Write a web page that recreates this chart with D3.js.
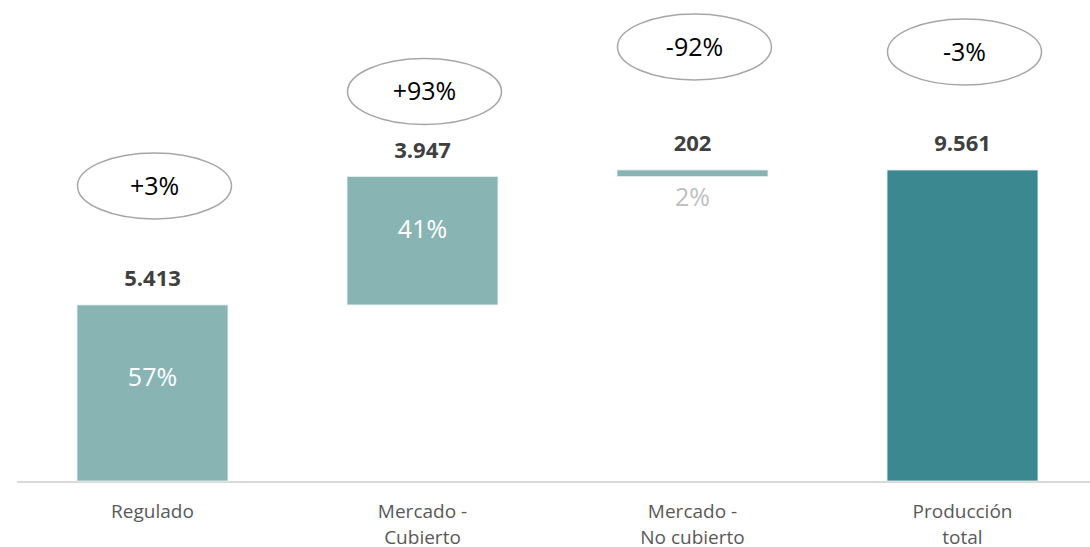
<!DOCTYPE html>
<html lang="es">
<head>
  <meta charset="utf-8">
  <title>Producción por mercado</title>
<style>
  body { margin: 0; background: #fff; }
  svg { display: block; font-family: "Open Sans", sans-serif; }
  .ejes line { stroke: #d9d9d9; stroke-width: 2; }
  .valor { font-weight: bold; fill: #404040; font-size: 22px; }
  .cuota { font-size: 25px; }
  .burbuja ellipse { fill: #fff; stroke: #a6a6a6; stroke-width: 1.5; }
  .burbuja text { fill: #000; font-size: 25px; }
  .categoria { fill: #595959; font-size: 19px; }
</style>
  <script src="https://d3js.org/d3.v7.min.js"></script>
</head>
<body>
<svg width="1090" height="547"></svg>
<script>
// datos
var categorias = [["Regulado"], ["Mercado -", "Cubierto"], ["Mercado -", "No cubierto"], ["Producción", "total"]];
var valores = [5413, 3947, 202, 9561];
var cuotas = ["57%", "41%", "2%", null];
var variaciones = ["+3%", "+93%", "-92%", "-3%"];
var esTotal = [false, false, false, true];

var svg = d3.select("svg"),
    width = +svg.attr("width"),
    height = +svg.attr("height");

// cascada: cada barra parcial empieza donde acaba la anterior
var acum = 0;
var barras = valores.map(function (v, i) {
  var d = { i: i, v: v, total: esTotal[i] };
  if (d.total) { d.y0 = 0; d.y1 = v; }
  else { d.y0 = acum; d.y1 = acum + v; acum += v; }
  return d;
});

var x = d3.scaleBand()
    .domain(d3.range(valores.length))
    .range([17.5, 1097.5])
    .paddingInner(0.441)
    .paddingOuter(0.2205);

var y = d3.scaleLinear()
    .domain([0, d3.max(valores)])
    .range([481, 170]);

var claro = "#88b4b4", oscuro = "#3b8891";

// titulo (cortado arriba)
svg.append("text")
    .attr("x", 559).attr("y", -4)
    .attr("text-anchor", "middle")
    .style("font-weight", "bold").style("font-size", "24px")
    .text("(en GWh)");

// eje
svg.append("g").attr("class", "ejes")
  .append("line")
    .attr("x1", 17).attr("x2", width)
    .attr("y1", y(0) + 1).attr("y2", y(0) + 1);

var g = svg.selectAll("g.barra")
    .data(barras)
    .enter().append("g").attr("class", "barra");

g.append("rect")
    .attr("x", function (d) { return x(d.i); })
    .attr("width", x.bandwidth())
    .attr("y", function (d) { return y(d.y1); })
    .attr("height", function (d) { return y(d.y0) - y(d.y1); })
    .attr("fill", function (d) { return d.total ? oscuro : claro; })
    .attr("stroke", "#e6f0f0").attr("stroke-width", 0.8);

g.append("text")
    .attr("class", "valor")
    .attr("x", function (d) { return x(d.i) + x.bandwidth() / 2; })
    .attr("y", function (d) { return y(d.y1) - 19; })
    .attr("text-anchor", "middle")
    .text(function (d) { return d3.format(",")(d.v).replace(/,/g, "."); });

// cuotas: dentro si la barra es alta, debajo si es fina
g.filter(function (d) { return cuotas[d.i]; })
  .append("text")
    .attr("class", "cuota")
    .attr("x", function (d) { return x(d.i) + x.bandwidth() / 2; })
    .attr("y", function (d) {
      var h = y(d.y0) - y(d.y1);
      return h > 40 ? y(d.y1) + h * 0.41 : y(d.y0) + 21;
    })
    .attr("dy", "0.35em")
    .attr("text-anchor", "middle")
    .attr("fill", function (d) { return (y(d.y0) - y(d.y1)) > 40 ? "#fff" : "#bfbfbf"; })
    .text(function (d) { return cuotas[d.i]; });

// burbujas de variacion (colocadas a mano en el original)
var alzado = [119, 85, 123, 118];
var b = g.append("g").attr("class", "burbuja")
    .attr("transform", function (d) {
      return "translate(" + (x(d.i) + x.bandwidth() / 2 + 2) + "," + (y(d.y1) - alzado[d.i]) + ")";
    });
b.append("ellipse").attr("rx", 77).attr("ry", 33);
b.append("text")
    .attr("text-anchor", "middle")
    .attr("dy", "0.35em")
    .text(function (d) { return variaciones[d.i]; });

// categorias
g.append("text")
    .attr("class", "categoria")
    .attr("text-anchor", "middle")
    .attr("transform", function (d) { return "translate(" + (x(d.i) + x.bandwidth() / 2) + "," + 518 + ")"; })
    .selectAll("tspan")
    .data(function (d) { return categorias[d.i]; })
    .enter().append("tspan")
      .attr("x", 0)
      .attr("y", function (t, k) { return k * 26; })
      .text(function (t) { return t; });
</script>
</body>
</html>
